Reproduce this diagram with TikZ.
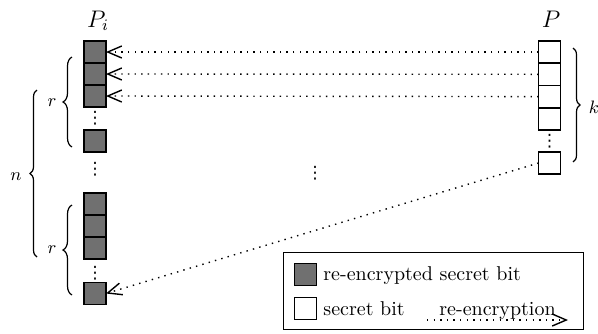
\documentclass[tikz,border=0pt]{standalone}
\usepackage{fontspec}
\newfontfamily\dotsfont{DejaVu Sans}
\usetikzlibrary{arrows.meta,decorations.pathreplacing}
\definecolor{bitgray}{RGB}{112,112,112}
\newcommand\bitdots{{\dotsfont\fontsize{8.5}{9}\selectfont ⋮}}
\tikzset{
  encbit/.style={draw,fill=bitgray,line width=0.75pt,minimum size=11pt,inner sep=0pt,outer sep=0pt},
  plainbit/.style={draw,fill=white,line width=0.75pt,minimum size=11pt,inner sep=0pt,outer sep=0pt},
  reenc/.style={->,line width=0.7pt,dash pattern=on 0.7pt off 2.6pt},
  bitbrace/.style={decorate,decoration={brace,amplitude=#1},line width=0.6pt},
  bitbrace/.default=4.5pt
}
\begin{document}
\begin{tikzpicture}[x=0.5pt,y=-0.5pt,>={Straight Barb[length=7pt,width=6pt]},every node/.style={inner sep=1pt}]
  \useasboundingbox (0,0) rectangle (598,333);
  % column of P_i
  \node[anchor=base] (Pi) at (98,27) {\large$P_i$};
  \node[encbit] (L1) at (95,52) {};
  \node[encbit] (L2) at (95,74) {};
  \node[encbit] (L3) at (95,96) {};
  \node (Ld1) at (95,118) {\bitdots};
  \node[encbit] (L4) at (95,141) {};
  \node (Ld2) at (95,169) {\bitdots};
  \node[encbit] (L5) at (95,204) {};
  \node[encbit] (L6) at (95,226) {};
  \node[encbit] (L7) at (95,248) {};
  \node (Ld3) at (95,273) {\bitdots};
  \node[encbit] (L8) at (95,293.5) {};
  % column of P
  \node[anchor=base] (P) at (551,27) {\large$P$};
  \node[plainbit] (R1) at (549.5,52) {};
  \node[plainbit] (R2) at (549.5,74.3) {};
  \node[plainbit] (R3) at (549.5,96.6) {};
  \node[plainbit] (R4) at (549.5,118.9) {};
  \node (Rd1) at (549.5,141) {\bitdots};
  \node[plainbit] (R5) at (549.5,163) {};
  \node (Md) at (315,173) {\bitdots};
  % braces
  \draw[bitbrace] (72,147) -- (72,57);
  \node (r1) at (52,103) {\small$r$};
  \draw[bitbrace] (72,295) -- (72,205);
  \node (r2) at (52,250) {\small$r$};
  \draw[bitbrace=3.5pt] (37,257) -- (37,90);
  \node (n) at (16,177) {\small$n$};
  \draw[bitbrace=3.5pt] (573,48) -- (573,162);
  \node (k) at (594,107) {\small$k$};
  % re-encryption
  \draw[reenc] (R1.west) -- (L1.east);
  \draw[reenc] (R2.west) -- (L2.east);
  \draw[reenc] (R3.west) -- (L3.east);
  \draw[reenc] (R5.west) -- (L8.east);
  % legend
  \node[draw,line width=0.5pt,minimum width=150pt,minimum height=38.5pt,inner sep=0pt] (legend) at (433,290.5) {};
  \node[encbit] (lgenc) at (305.5,274.5) {};
  \node[anchor=west] (lgenctext) at (321,276) {re-encrypted secret bit};
  \node[plainbit] (lgplain) at (305.5,308.5) {};
  \node[anchor=west] (lgplaintext) at (321,308.5) {secret bit};
  \coordinate (lgA) at (427,320);
  \coordinate (lgB) at (568,320);
  \draw[reenc] (lgA) -- node[above,inner sep=0pt] (lgtext) {re-encryption} (lgB);
\end{tikzpicture}
\end{document}
